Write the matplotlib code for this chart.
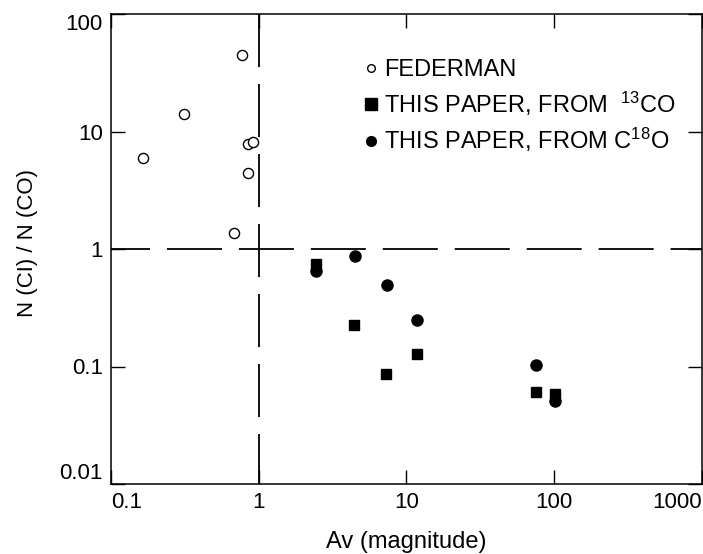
import numpy as np
import matplotlib
matplotlib.use('Agg')
import matplotlib.pyplot as plt
from matplotlib.lines import Line2D

plt.rcParams['font.family'] = ['Liberation Sans', 'DejaVu Sans']
plt.rcParams['mathtext.fontset'] = 'custom'
plt.rcParams['mathtext.rm'] = 'Liberation Sans'
plt.rcParams['mathtext.it'] = 'Liberation Sans'
plt.rcParams['lines.scale_dashes'] = False

# Federman (open circles)
federman_av = [0.165, 0.31, 0.77, 0.85, 0.92, 0.85, 0.68]
federman_ratio = [5.9, 14.2, 45.0, 7.8, 8.2, 4.4, 1.38]

# this paper, 13CO (squares)
co13_av = [2.44, 4.4, 7.3, 11.8, 76.0, 101.0]
co13_ratio = [0.75, 0.227, 0.087, 0.129, 0.061, 0.058]

# this paper, C18O (filled circles)
c18o_av = [2.44, 4.5, 7.4, 11.8, 76.0, 101.0]
c18o_ratio = [0.65, 0.87, 0.49, 0.25, 0.102, 0.051]

xticks = [0.1, 1, 10, 100, 1000]
xticklabels = ['0.1', '1', '10', '100', '1000']
yticks = [0.01, 0.1, 1, 10, 100]
yticklabels = ['0.01', '0.1', '1', '10', '100']

W, H = 703, 554
fig = plt.figure(figsize=(W / 100, H / 100), dpi=100)
l, r, t, b = 111, 701.5, 14, 484
ax = fig.add_axes([l / W, 1 - b / H, (r - l) / W, (b - t) / H])

ax.set_xscale('log')
ax.set_yscale('log')
ax.set_xlim(0.1, 1000)
ax.set_ylim(0.01, 100)

# reference lines at Av = 1 and ratio = 1
ax.plot([1, 1], [100, 0.01], color='black', lw=1.3, ls=(0, (38.2, 12.2)), zorder=1)
ax.plot([0.1, 1000], [1, 1], color='black', lw=1.3, ls=(11.5, (39.6, 12.2)), zorder=1)

ax.plot(federman_av, federman_ratio, 'o', mfc='white', mec='black', mew=1.0, ms=7.3, zorder=3)
ax.plot(co13_av, co13_ratio, 's', color='black', ms=7.6, zorder=3)
ax.plot(c18o_av, c18o_ratio, 'o', color='black', ms=8.0, zorder=3)

ax.set_xticks(xticks)
ax.set_xticklabels(xticklabels)
ax.set_yticks(yticks)
ax.set_yticklabels(yticklabels)
ax.minorticks_off()
ax.tick_params(which='both', direction='in', length=10, width=1.0,
               top=True, right=True, labelsize=16)
ax.tick_params(axis='x', pad=6)
ax.tick_params(axis='y', pad=6)

# keep end labels inside the frame
xl = ax.get_xticklabels()
xl[0].set_ha('left')
xl[-1].set_ha('right')
yl = ax.get_yticklabels()
yl[0].set_va('bottom')
yl[-1].set_va('top')

for s in ax.spines.values():
    s.set_linewidth(1.1)

ax.set_xlabel('Av (magnitude)', fontsize=17)
ax.xaxis.set_label_coords(0.5, -0.10)
ax.set_ylabel('N (CI) / N (CO)', fontsize=16)
ax.yaxis.set_label_coords(-0.124, 0.513)

handles = [
    Line2D([], [], ls='none', marker='o', mfc='white', mec='black', mew=1.0, ms=5.5),
    Line2D([], [], ls='none', marker='s', color='black', ms=8.0),
    Line2D([], [], ls='none', marker='o', color='black', ms=7.0),
]
labels = ['FEDERMAN',
          r'THIS PAPER, FROM  $\mathrm{{}^{13}CO}$',
          r'THIS PAPER, FROM $\mathrm{C^{18}O}$']
ax.legend(handles, labels, loc='upper left', bbox_to_anchor=(0.431, 0.904),
          frameon=False, fontsize=17, handlelength=0.5, handletextpad=0.3,
          labelspacing=0.35, borderpad=0, borderaxespad=0)

fig.savefig('out.png', dpi=100)
